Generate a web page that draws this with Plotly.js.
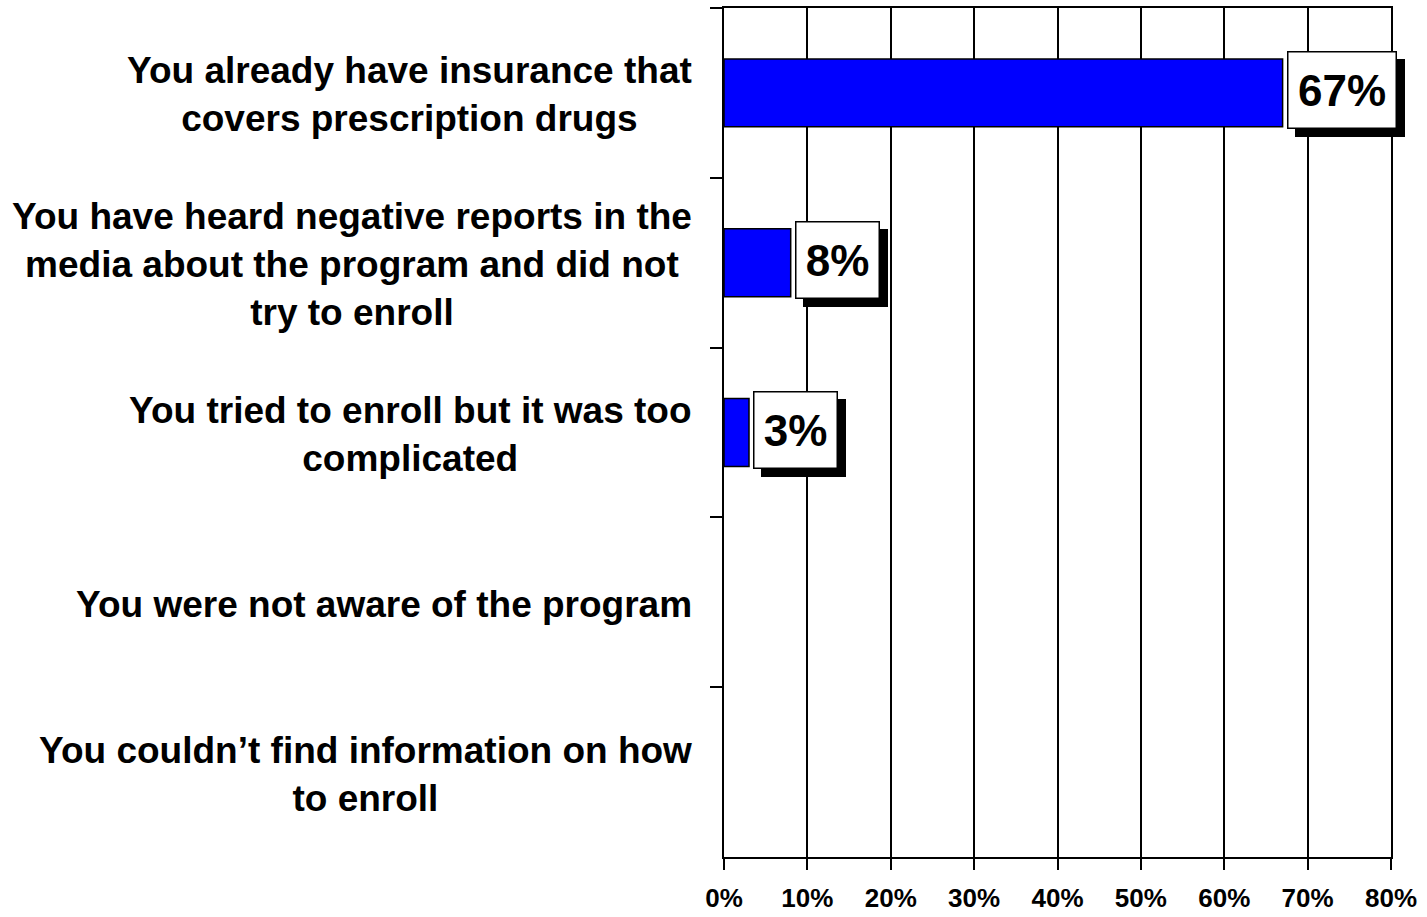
<!DOCTYPE html>
<html>
<head>
<meta charset="utf-8">
<script src="https://cdn.plot.ly/plotly-3.0.1.min.js"></script>
<style>
  html, body { margin: 0; padding: 0; background: #ffffff; }
  #chart { width: 1427px; height: 917px; }
</style>
</head>
<body>
<div id="chart"></div>
<script>
// Categories, top to bottom
const categories = [
  "You already have insurance that<br>covers prescription drugs",
  "You have heard negative reports in the<br>media about the program and did not<br>try to enroll",
  "You tried to enroll but it was too<br>complicated",
  "You were not aware of the program",
  "You couldn\u2019t find information on how<br>to enroll"
];
// Percent values (no bar drawn for the last two)
const values = [67, 8, 3, null, null];
const valueLabels = ["67%", "8%", "3%", "", ""];
const xTickValues = [0, 10, 20, 30, 40, 50, 60, 70, 80];
const xTickLabels = ["0%", "10%", "20%", "30%", "40%", "50%", "60%", "70%", "80%"];

const FONT = "Liberation Sans, Arial, Helvetica, sans-serif";
const LABEL_SIZE = 44;

// measure label text so the shadow box can match the white box without duplicating text
const ctx = document.createElement("canvas").getContext("2d");
ctx.font = "bold " + LABEL_SIZE + "px 'Liberation Sans', Arial, sans-serif";
function textW(t) { return Math.ceil(ctx.measureText(t).width); }

const trace = {
  type: "bar",
  orientation: "h",
  y: categories,
  x: values,
  marker: { color: "#0000FF", line: { color: "#000000", width: 1.5 } },
  hoverinfo: "x+y"
};

const annotations = [];
// category labels (centred multi-line text, right edge near the axis)
categories.forEach(function (c) {
  annotations.push({
    xref: "paper", yref: "y", x: 0, y: c,
    xanchor: "right", yanchor: "middle", xshift: -30, yshift: -2,
    text: c, showarrow: false, align: "center",
    font: { family: FONT, size: 37, color: "#000000", weight: 700 }
  });
});
// value labels: shadow then white box
values.forEach(function (v, i) {
  if (v === null || !valueLabels[i]) return;
  const w = textW(valueLabels[i]);
  annotations.push({
    xref: "x", yref: "y", x: v, y: categories[i],
    xanchor: "left", yanchor: "middle", xshift: 12, yshift: -5,
    text: " ", showarrow: false,
    bgcolor: "#000000", bordercolor: "#000000", borderwidth: 1.5, borderpad: 9,
    width: w, height: 57,
    font: { family: FONT, size: LABEL_SIZE, color: "#000000", weight: 700 }
  });
  annotations.push({
    xref: "x", yref: "y", x: v, y: categories[i],
    xanchor: "left", yanchor: "middle", xshift: 4, yshift: 3,
    text: valueLabels[i], showarrow: false,
    bgcolor: "#FFFFFF", bordercolor: "#000000", borderwidth: 1.5, borderpad: 9,
    width: w, height: 57,
    font: { family: FONT, size: LABEL_SIZE, color: "#000000", weight: 700 }
  });
});

const layout = {
  width: 1427, height: 917,
  margin: { l: 724, r: 36, t: 8, b: 60, pad: 0 },
  paper_bgcolor: "#ffffff", plot_bgcolor: "#ffffff",
  showlegend: false,
  bargap: 0.6,
  font: { family: FONT, color: "#000000" },
  xaxis: {
    range: [0, 80],
    tickmode: "array", tickvals: xTickValues, ticktext: xTickLabels,
    showgrid: true, gridcolor: "#000000", gridwidth: 2,
    zeroline: false,
    showline: true, linecolor: "#000000", linewidth: 2, mirror: true,
    ticks: "outside", ticklen: 11, tickwidth: 2, tickcolor: "#000000",
    ticklabelstandoff: 6,
    tickfont: { family: FONT, size: 26, color: "#000000", weight: 700 },
    fixedrange: true
  },
  yaxis: {
    type: "category",
    autorange: "reversed",
    showticklabels: false,
    tickson: "boundaries",
    ticks: "outside", ticklen: 12, tickwidth: 2, tickcolor: "#000000",
    showgrid: false, zeroline: false,
    showline: true, linecolor: "#000000", linewidth: 2, mirror: true,
    fixedrange: true
  },
  annotations: annotations
};

Plotly.newPlot("chart", [trace], layout, { displayModeBar: false, staticPlot: true });
</script>
</body>
</html>
